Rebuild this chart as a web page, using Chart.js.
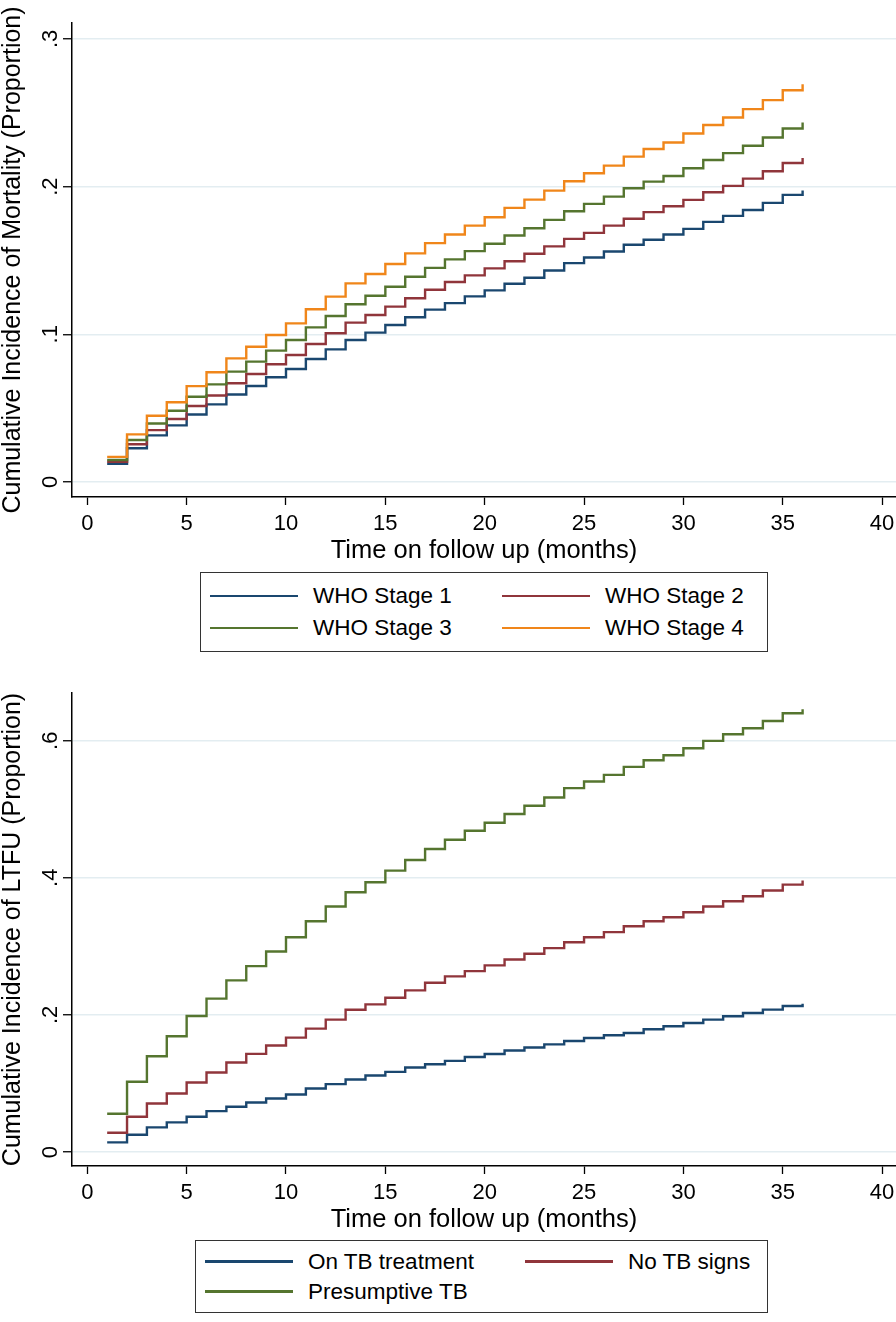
<!DOCTYPE html>
<html>
<head>
<meta charset="utf-8">
<script src="https://cdn.jsdelivr.net/npm/chart.js@4.4.1/dist/chart.umd.min.js"></script>
<style>
  body { margin: 0; width: 896px; height: 1322px; overflow: hidden; background: #fff;
         font-family: 'Liberation Sans', Arial, Helvetica, sans-serif; }
  .panel { position: absolute; left: 0; width: 896px; }
  .legend { position: absolute; box-sizing: border-box; border: 1.5px solid #333;
            display: grid; align-content: center; padding-left: 9px; }
  .legend .item { display: flex; align-items: center; font-size: 22.5px; color: #000; white-space: nowrap; }
  .legend .swatch { width: 88px; height: 2.5px; margin-right: 15px; }
</style>
</head>
<body>
<div class="panel" style="top:0;height:566px"><canvas id="mortChart"></canvas></div>
<div class="legend" id="mortLegend" style="left:200px;top:572px;width:568px;height:80px;grid-template-columns:292px auto;grid-auto-rows:32px"></div>
<div class="panel" style="top:660px;height:575px"><canvas id="ltfuChart"></canvas></div>
<div class="legend" id="ltfuLegend" style="left:195px;top:1240px;width:573px;height:73px;grid-template-columns:320px auto;grid-auto-rows:30px"></div>

<script>
// follow-up months (x values of the step functions)
const months = [1, 2, 3, 4, 5, 6, 7, 8, 9, 10, 11, 12, 13, 14, 15, 16, 17, 18,
                19, 20, 21, 22, 23, 24, 25, 26, 27, 28, 29, 30, 31, 32, 33, 34, 35, 36];
const xTicks = [0, 5, 10, 15, 20, 25, 30, 35, 40];

// Panel 1: cumulative incidence of mortality by WHO stage
const mortYTicks = [0, 0.1, 0.2, 0.3];
const mortYLabels = ['0', '.1', '.2', '.3'];
const mortLabels = ['WHO Stage 1', 'WHO Stage 2', 'WHO Stage 3', 'WHO Stage 4'];
const whoStage1 = [.0122, .0228, .0315, .0383, .0457, .0525, .0592, .0650, .0709, .0765, .0833, .0898,
                   .0961, .1011, .1063, .1115, .1167, .1211, .1257, .1297, .1342, .1383, .1432, .1482,
                   .1520, .1561, .1606, .1640, .1676, .1714, .1761, .1802, .1842, .1890, .1944, .1973];
const whoStage2 = [.0137, .0255, .0351, .0426, .0514, .0585, .0668, .0731, .0797, .0860, .0934, .1007,
                   .1079, .1131, .1187, .1244, .1302, .1354, .1399, .1446, .1495, .1545, .1595, .1646,
                   .1687, .1736, .1782, .1827, .1867, .1910, .1962, .2005, .2054, .2104, .2160, .2194];
const whoStage3 = [.0149, .0284, .0396, .0482, .0577, .0661, .0747, .0815, .0889, .0961, .1047, .1124,
                   .1203, .1261, .1322, .1390, .1450, .1507, .1563, .1613, .1669, .1718, .1775, .1833,
                   .1883, .1932, .1989, .2034, .2072, .2124, .2180, .2227, .2277, .2333, .2394, .2435];
const whoStage4 = [.0170, .0322, .0448, .0540, .0649, .0743, .0837, .0916, .0995, .1074, .1169, .1255,
                   .1345, .1408, .1476, .1548, .1617, .1676, .1736, .1793, .1856, .1912, .1973, .2036,
                   .2090, .2142, .2203, .2255, .2299, .2360, .2417, .2468, .2525, .2586, .2653, .2694];

// Panel 2: cumulative incidence of LTFU by TB status
const ltfuYTicks = [0, 0.2, 0.4, 0.6];
const ltfuYLabels = ['0', '.2', '.4', '.6'];
const ltfuLabels = ['On TB treatment', 'No TB signs', 'Presumptive TB'];
const onTbTreatment = [.0141, .0252, .0359, .0432, .0514, .0597, .0660, .0723, .0781, .0839, .0927, .0990,
                       .1058, .1116, .1169, .1233, .1281, .1329, .1385, .1430, .1480, .1525, .1570, .1620,
                       .1664, .1703, .1737, .1790, .1834, .1882, .1931, .1980, .2028, .2077, .2130, .2164];
const noTbSigns = [.0282, .0514, .0708, .0854, .1014, .1160, .1305, .1431, .1553, .1669, .1800, .1931,
                   .2075, .2154, .2251, .2358, .2470, .2562, .2639, .2722, .2809, .2892, .2974, .3061,
                   .3134, .3207, .3294, .3367, .3425, .3498, .3581, .3658, .3731, .3814, .3901, .3959];
const presumptiveTb = [.0558, .1024, .1397, .1689, .1984, .2237, .2504, .2712, .2926, .3134, .3367, .3581,
                       .3789, .3935, .4105, .4260, .4421, .4556, .4687, .4803, .4930, .5051, .5172, .5308,
                       .5405, .5502, .5619, .5716, .5789, .5891, .5997, .6094, .6182, .6288, .6400, .6458];

// Stata s2color-ish palette
const colors = ['#1a476f', '#90353b', '#55752f', '#f0861a'];
const FONT = "'Liberation Sans', Arial, Helvetica, sans-serif";

function toPoints(values) {
    return months.map((m, i) => ({ x: m, y: values[i] }));
}

function makeDatasets(labels, series) {
    return series.map((values, i) => ({
        label: labels[i],
        data: toPoints(values),
        borderColor: colors[i],
        borderWidth: 2.4,
        pointRadius: 0,
        stepped: 'before',
        fill: false,
        order: series.length - i   // later series drawn on top, as in Stata
    }));
}

function makeChart(canvasId, datasets, opts) {
    const ctx = document.getElementById(canvasId).getContext('2d');
    return new Chart(ctx, {
        type: 'line',
        data: { datasets: datasets },
        options: {
            responsive: true,
            maintainAspectRatio: false,
            animation: false,
            layout: { padding: { top: opts.top, left: 0, right: 0, bottom: 0 } },
            plugins: {
                legend: { display: false },
                tooltip: { enabled: false }
            },
            scales: {
                x: {
                    type: 'linear',
                    min: -0.77,
                    max: 40.7,
                    afterBuildTicks: s => { s.ticks = xTicks.map(v => ({ value: v })); },
                    afterFit: s => { s.height = 69; s.paddingLeft = 0; s.paddingRight = 0; },
                    grid: { drawOnChartArea: false, drawTicks: true, tickLength: 8, tickColor: '#000', tickWidth: 1.3 },
                    border: { color: '#000', width: 1.5 },
                    ticks: { color: '#000', font: { family: FONT, size: 22 }, padding: 6, maxRotation: 0, autoSkip: false },
                    title: { display: true, text: 'Time on follow up (months)', color: '#000',
                             font: { family: FONT, size: 25.5 }, padding: { top: 0, bottom: 0 } }
                },
                y: {
                    min: opts.yMin,
                    max: opts.yMax,
                    afterBuildTicks: s => { s.ticks = opts.yTicks.map(v => ({ value: v })); },
                    afterFit: s => { s.width = 72; s.paddingTop = 0; s.paddingBottom = 0; },
                    grid: { color: '#e3edf1', lineWidth: 1.5, tickLength: 9, tickColor: '#000', tickWidth: 1.3 },
                    border: { color: '#000', width: 1.5 },
                    ticks: { color: '#000', font: { family: FONT, size: 22 }, padding: 3,
                             minRotation: 90, maxRotation: 90, crossAlign: 'center',
                             callback: (v, i) => opts.yLabels[i] },
                    title: { display: true, text: opts.yTitle, color: '#000',
                             font: { family: FONT, size: 25 }, padding: { top: -2, bottom: 0 } }
                }
            }
        }
    });
}

// HTML legend built from the chart's own datasets
function buildLegend(chart, containerId) {
    const box = document.getElementById(containerId);
    chart.data.datasets.forEach(ds => {
        const item = document.createElement('div');
        item.className = 'item';
        item.innerHTML = `<span class="swatch" style="background:${ds.borderColor}"></span><span>${ds.label}</span>`;
        box.appendChild(item);
    });
}

const mortChart = makeChart('mortChart',
    makeDatasets(mortLabels, [whoStage1, whoStage2, whoStage3, whoStage4]),
    { top: 23, yMin: -0.0102, yMax: 0.3108,
      yTicks: mortYTicks, yLabels: mortYLabels,
      yTitle: 'Cumulative Incidence of Mortality (Proportion)' });
buildLegend(mortChart, 'mortLegend');

const ltfuChart = makeChart('ltfuChart',
    makeDatasets(ltfuLabels, [onTbTreatment, noTbSigns, presumptiveTb]),
    { top: 33, yMin: -0.0204, yMax: 0.6696,
      yTicks: ltfuYTicks, yLabels: ltfuYLabels,
      yTitle: 'Cumulative Incidence of LTFU (Proportion)' });
buildLegend(ltfuChart, 'ltfuLegend');
</script>
</body>
</html>
